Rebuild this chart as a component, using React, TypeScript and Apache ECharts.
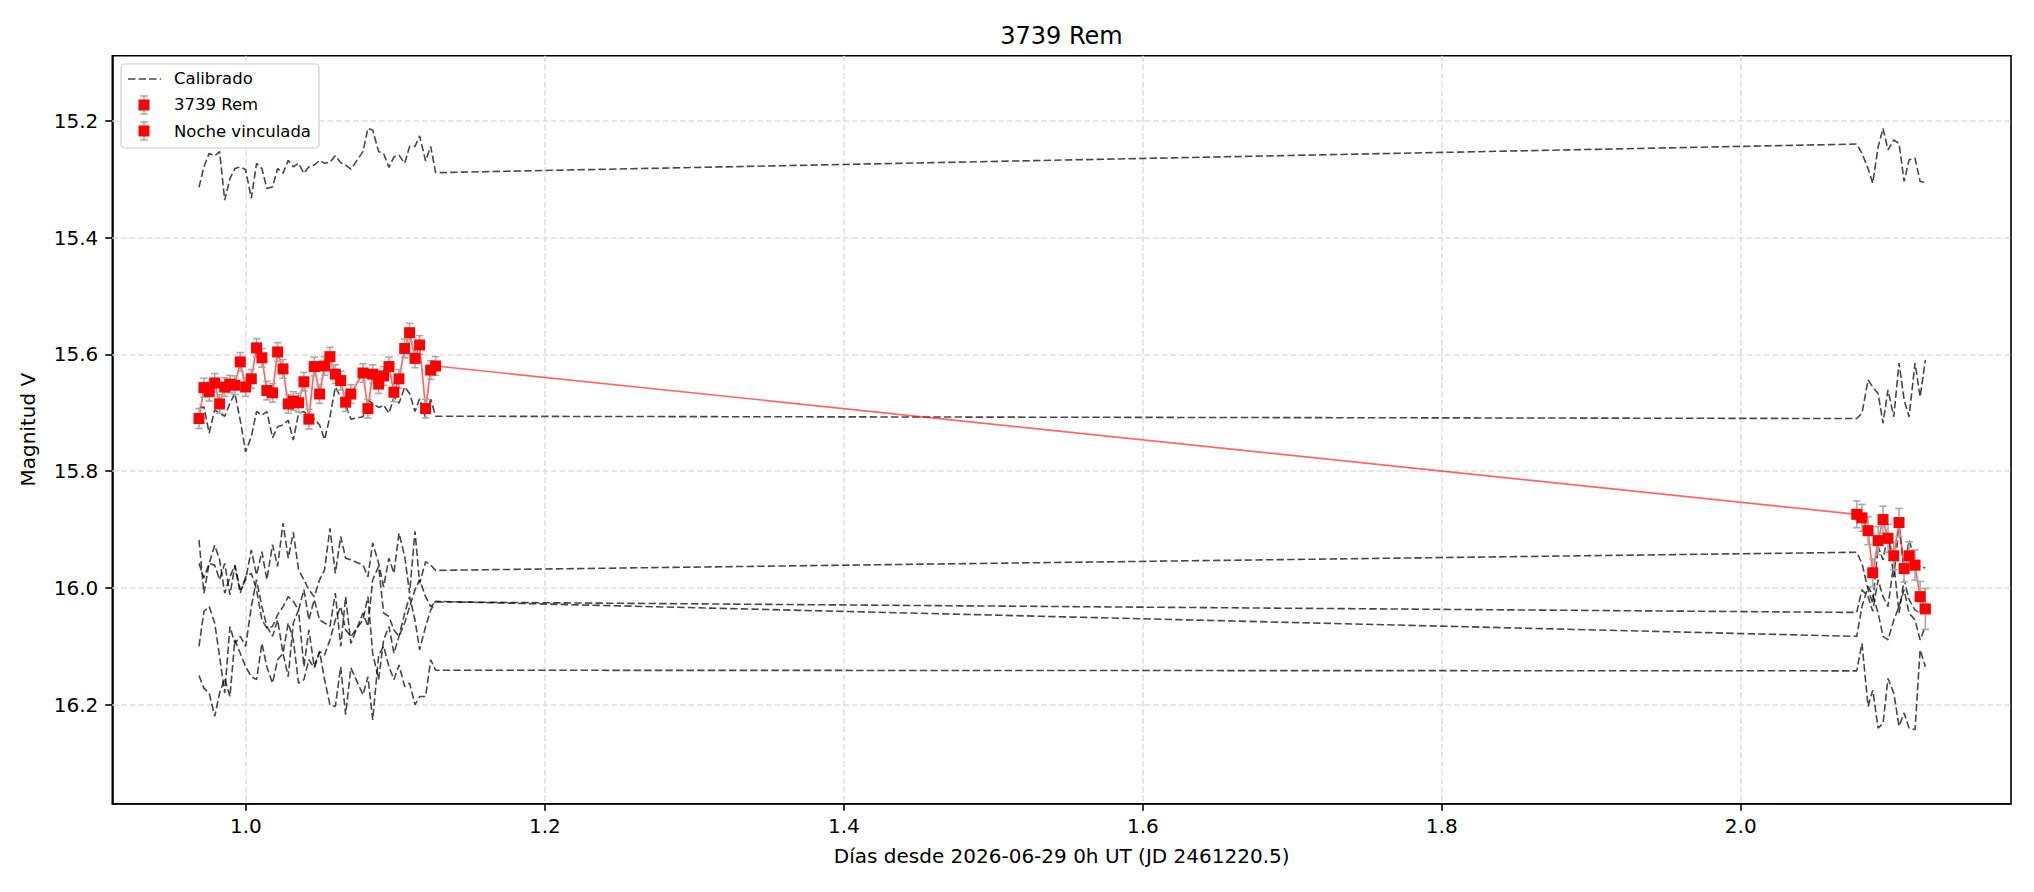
import React, { useEffect, useRef } from 'react';
import * as echarts from 'echarts';

const TITLE = '3739 Rem';
const X_LABEL = 'Días desde 2026-06-29 0h UT (JD 2461220.5)';
const Y_LABEL = 'Magnitud V';
const LEGEND_NAMES = ['Calibrado', '3739 Rem', 'Noche vinculada'];
const X_TICKS = [1.0, 1.2, 1.4, 1.6, 1.8, 2.0];
const Y_TICKS = [15.2, 15.4, 15.6, 15.8, 16.0, 16.2];
const X_MIN = 0.9106;
const X_MAX = 2.1808;
const Y_MIN = 15.0887;
const Y_MAX = 16.3695;

// Night 1 (3739 Rem)
const T1 = [0.9686, 0.9719, 0.9754, 0.9791, 0.9824, 0.9858, 0.9893, 0.9926, 0.9962, 0.9998, 1.0036, 1.0071, 1.0107, 1.014, 1.0178, 1.0212, 1.0248, 1.0283, 1.0317, 1.0352, 1.0388, 1.0421, 1.0457, 1.0493, 1.0526, 1.0562, 1.0598, 1.0634, 1.0667, 1.0702, 1.0783, 1.0816, 1.0848, 1.0888, 1.0921, 1.0957, 1.099, 1.1024, 1.1062, 1.1095, 1.1131, 1.1162, 1.1202, 1.1236, 1.1269];
const M1 = [15.71, 15.657, 15.664, 15.649, 15.685, 15.656, 15.651, 15.653, 15.613, 15.656, 15.642, 15.589, 15.606, 15.662, 15.666, 15.596, 15.625, 15.685, 15.68, 15.683, 15.647, 15.711, 15.621, 15.668, 15.62, 15.604, 15.634, 15.645, 15.682, 15.668, 15.632, 15.693, 15.634, 15.651, 15.637, 15.621, 15.665, 15.642, 15.59, 15.563, 15.607, 15.584, 15.693, 15.627, 15.62];
const E1 = [0.017, 0.016, 0.016, 0.016, 0.016, 0.016, 0.015, 0.016, 0.016, 0.016, 0.016, 0.016, 0.016, 0.016, 0.016, 0.016, 0.016, 0.016, 0.016, 0.016, 0.016, 0.017, 0.016, 0.016, 0.016, 0.016, 0.016, 0.016, 0.016, 0.016, 0.016, 0.016, 0.016, 0.016, 0.016, 0.016, 0.016, 0.016, 0.016, 0.016, 0.016, 0.016, 0.016, 0.016, 0.016];

// Night 2 (Noche vinculada)
const T2 = [2.0776, 2.0811, 2.0852, 2.0883, 2.0919, 2.0952, 2.0985, 2.1024, 2.1059, 2.1093, 2.1126, 2.1166, 2.12, 2.1235];
const M2 = [15.874, 15.88, 15.902, 15.974, 15.919, 15.883, 15.915, 15.945, 15.888, 15.967, 15.945, 15.961, 16.015, 16.036];
const E2 = [0.023, 0.023, 0.024, 0.024, 0.024, 0.023, 0.024, 0.024, 0.024, 0.023, 0.024, 0.026, 0.026, 0.035];

// Calibrated comparison stars, night 1 and night 2
const CAL1_N1 = [15.314, 15.279, 15.256, 15.26, 15.253, 15.336, 15.299, 15.282, 15.279, 15.284, 15.333, 15.273, 15.282, 15.316, 15.313, 15.282, 15.29, 15.268, 15.279, 15.273, 15.29, 15.279, 15.276, 15.268, 15.273, 15.271, 15.26, 15.272, 15.276, 15.283, 15.253, 15.213, 15.216, 15.253, 15.256, 15.28, 15.262, 15.259, 15.273, 15.244, 15.244, 15.226, 15.269, 15.244, 15.289];
const CAL1_N2 = [15.24, 15.256, 15.282, 15.307, 15.245, 15.213, 15.25, 15.233, 15.239, 15.304, 15.267, 15.264, 15.304, 15.306];
const CAL2_N1 = [15.693, 15.69, 15.735, 15.695, 15.701, 15.706, 15.684, 15.667, 15.713, 15.767, 15.741, 15.698, 15.704, 15.698, 15.743, 15.724, 15.721, 15.713, 15.747, 15.701, 15.698, 15.706, 15.711, 15.721, 15.746, 15.707, 15.656, 15.673, 15.687, 15.711, 15.707, 15.678, 15.684, 15.691, 15.687, 15.701, 15.673, 15.684, 15.656, 15.667, 15.698, 15.676, 15.709, 15.677, 15.706];
const CAL2_N2 = [15.71, 15.701, 15.644, 15.656, 15.667, 15.718, 15.661, 15.707, 15.615, 15.678, 15.707, 15.615, 15.673, 15.61];
const CAL3_N1 = [15.918, 16.009, 15.958, 15.927, 15.952, 16.009, 15.981, 15.961, 16.003, 15.986, 15.935, 15.978, 15.938, 15.986, 15.926, 15.963, 15.889, 15.949, 15.905, 15.969, 15.986, 16.003, 16.015, 15.986, 15.969, 15.898, 15.975, 15.912, 15.949, 15.952, 15.961, 15.981, 15.923, 15.958, 15.998, 15.949, 15.975, 15.906, 15.946, 16.009, 15.903, 15.992, 15.955, 15.961, 15.97];
const CAL3_N2 = [15.939, 15.958, 16.003, 16.026, 15.929, 15.952, 15.906, 15.981, 15.895, 15.969, 15.918, 15.952, 15.963, 15.966];
const CAL4_N1 = [15.958, 15.983, 15.958, 15.961, 15.986, 15.958, 16.012, 15.962, 16.009, 15.981, 15.975, 16.003, 16.055, 16.069, 16.066, 16.046, 16.032, 16.015, 16.023, 16.038, 16.003, 16.055, 16.02, 16.055, 16.06, 16.066, 16.009, 16.1, 16.015, 16.095, 16.043, 16.066, 15.986, 15.963, 16.043, 16.049, 16.072, 16.083, 16.06, 16.032, 16.003, 15.986, 16.015, 16.032, 16.024];
const CAL4_N2 = [16.042, 16.003, 16.015, 16.04, 15.986, 16.015, 16.032, 15.958, 16.043, 15.986, 16.02, 16.038, 16.043, 16.003];
const CAL5_N1 = [16.1, 16.04, 16.032, 16.06, 16.118, 16.18, 16.066, 16.095, 16.083, 16.1, 16.032, 15.986, 16.032, 16.066, 16.083, 16.055, 16.112, 16.152, 16.06, 16.038, 16.135, 16.072, 16.135, 16.109, 16.115, 16.089, 16.055, 16.032, 16.072, 16.083, 16.055, 16.015, 16.112, 16.157, 16.089, 16.066, 16.112, 16.083, 16.043, 16.015, 16.055, 16.106, 16.066, 16.038, 16.023];
const CAL5_N2 = [16.083, 16.032, 15.998, 16.012, 16.043, 16.083, 16.089, 16.055, 16.032, 16.003, 16.043, 16.055, 16.089, 16.066];
const CAL6_N1 = [16.15, 16.172, 16.18, 16.22, 16.18, 16.155, 16.186, 16.089, 16.112, 16.135, 16.152, 16.157, 16.095, 16.135, 16.163, 16.123, 16.112, 16.06, 16.089, 16.163, 16.157, 16.123, 16.137, 16.109, 16.157, 16.2, 16.203, 16.135, 16.217, 16.137, 16.183, 16.152, 16.226, 16.115, 16.1, 16.135, 16.157, 16.132, 16.169, 16.163, 16.2, 16.186, 16.186, 16.123, 16.141];
const CAL6_N2 = [16.142, 16.095, 16.203, 16.175, 16.24, 16.232, 16.155, 16.18, 16.237, 16.214, 16.24, 16.243, 16.106, 16.135];

const CAL_N1 = [CAL1_N1, CAL2_N1, CAL3_N1, CAL4_N1, CAL5_N1, CAL6_N1];
const CAL_N2 = [CAL1_N2, CAL2_N2, CAL3_N2, CAL4_N2, CAL5_N2, CAL6_N2];

const FONT = 'DejaVu Sans';
const ERR_COLOR = '#a9a9a9';
const CAL_COLOR = 'rgba(0,0,0,0.72)';
const CAL_DASH = [7.4, 3.2];

function errorRender(params: any, api: any) {
  const x = api.value(0);
  const lo = api.value(1);
  const hi = api.value(2);
  const p1 = api.coord([x, lo]);
  const p2 = api.coord([x, hi]);
  const cap = 3.7;
  const style = { stroke: ERR_COLOR, lineWidth: 1.6 };
  return {
    type: 'group',
    children: [
      { type: 'line', shape: { x1: p1[0], y1: p1[1], x2: p2[0], y2: p2[1] }, style },
      { type: 'line', shape: { x1: p1[0] - cap, y1: p1[1], x2: p1[0] + cap, y2: p1[1] }, style },
      { type: 'line', shape: { x1: p2[0] - cap, y1: p2[1], x2: p2[0] + cap, y2: p2[1] }, style },
    ],
  };
}

function legendGraphics() {
  const items: any[] = [];
  items.push({
    type: 'rect', z: 100,
    shape: { x: 121, y: 64, width: 198, height: 84, r: 4 },
    style: { fill: 'rgba(255,255,255,0.85)', stroke: '#cccccc', lineWidth: 1.2 },
  });
  items.push({
    type: 'line', z: 101,
    shape: { x1: 128, y1: 79, x2: 161, y2: 79 },
    style: { stroke: CAL_COLOR, lineWidth: 1.6, lineDash: CAL_DASH },
  });
  const rows = [105, 131];
  rows.forEach((cy) => {
    const cx = 144;
    const st = { stroke: ERR_COLOR, lineWidth: 1.6 };
    items.push({ type: 'line', z: 101, shape: { x1: cx, y1: cy - 9, x2: cx, y2: cy + 9 }, style: st });
    items.push({ type: 'line', z: 101, shape: { x1: cx - 3.7, y1: cy - 9, x2: cx + 3.7, y2: cy - 9 }, style: st });
    items.push({ type: 'line', z: 101, shape: { x1: cx - 3.7, y1: cy + 9, x2: cx + 3.7, y2: cy + 9 }, style: st });
    items.push({ type: 'rect', z: 102, shape: { x: cx - 5.5, y: cy - 5.5, width: 11, height: 11 }, style: { fill: '#ff0000' } });
  });
  const ys = [78.5, 104.7, 131];
  LEGEND_NAMES.forEach((name, i) => {
    items.push({
      type: 'text', z: 103, x: 174, y: ys[i],
      style: {
        text: name, fill: '#000', fontSize: 16.5, fontFamily: FONT,
        align: 'left', verticalAlign: 'middle', textAlign: 'left', textVerticalAlign: 'middle',
      },
    });
  });
  items.push({
    type: 'text', z: 103, x: 1061.5, y: 36,
    style: {
      text: TITLE, fill: '#000', fontSize: 24, fontFamily: FONT,
      align: 'center', verticalAlign: 'middle', textAlign: 'center', textVerticalAlign: 'middle',
    },
  });
  return items;
}

export default function App() {
  const ref = useRef<HTMLDivElement>(null);
  useEffect(() => {
    if (!ref.current) return;
    const chart = echarts.init(ref.current, undefined, { renderer: 'svg' });

    const calSeries = CAL_N1.map((n1, k) => ({
      name: LEGEND_NAMES[0],
      type: 'line',
      z: 2,
      showSymbol: false,
      symbol: 'none',
      silent: true,
      data: T1.map((t, i) => [t, n1[i]]).concat(T2.map((t, i) => [t, CAL_N2[k][i]])),
      lineStyle: { color: CAL_COLOR, width: 1.6, type: CAL_DASH },
    }));

    const gridLines = [
      ...X_TICKS.map((v) => ({ xAxis: v })),
      ...Y_TICKS.map((v) => ({ yAxis: v })),
    ];

    const option: any = {
      animation: false,
      backgroundColor: '#ffffff',
      textStyle: { fontFamily: FONT },
      grid: {
        left: 112.3, right: 23, top: 55.7, bottom: 88.3,
        show: true, borderColor: '#000', borderWidth: 1.6, backgroundColor: 'transparent',
        containLabel: false, outerBoundsMode: 'none',
      },
      graphic: legendGraphics(),
      xAxis: {
        type: 'value', min: X_MIN, max: X_MAX,
        name: X_LABEL, nameLocation: 'middle', nameGap: 42,
        nameTextStyle: { fontSize: 20, color: '#000', fontFamily: FONT },
        axisLine: { show: true, onZero: false, lineStyle: { color: '#000', width: 1.6 } },
        axisTick: { show: true, length: 7, lineStyle: { color: '#000', width: 1.6 }, customValues: X_TICKS },
        axisLabel: { customValues: X_TICKS, formatter: (v: number) => v.toFixed(1), fontSize: 20, color: '#000', margin: 12, fontFamily: FONT },
        splitLine: { show: false },
      },
      yAxis: {
        type: 'value', inverse: true, min: Y_MIN, max: Y_MAX,
        name: Y_LABEL, nameLocation: 'middle', nameGap: 74,
        nameTextStyle: { fontSize: 20, color: '#000', fontFamily: FONT },
        axisLine: { show: true, onZero: false, lineStyle: { color: '#000', width: 1.6 } },
        axisTick: { show: true, length: 7, lineStyle: { color: '#000', width: 1.6 }, customValues: Y_TICKS },
        axisLabel: { customValues: Y_TICKS, formatter: (v: number) => v.toFixed(1), fontSize: 20, color: '#000', margin: 14, fontFamily: FONT },
        splitLine: { show: false },
      },
      series: [
        {
          name: 'grid', type: 'line', data: [], silent: true, z: 1,
          markLine: {
            silent: true, z: 1, symbol: ['none', 'none'], label: { show: false },
            lineStyle: { color: '#dedede', width: 1.5, type: [6, 2.6] },
            emphasis: { disabled: true },
            data: gridLines,
          },
        },
        ...calSeries,
        {
          name: 'link', type: 'line', z: 3, showSymbol: false, symbol: 'none', silent: true,
          data: T1.map((t, i) => [t, M1[i]]).concat(T2.map((t, i) => [t, M2[i]])),
          lineStyle: { color: 'rgba(255,0,0,0.6)', width: 1.7 },
        },
        {
          name: LEGEND_NAMES[1] + ' err', type: 'custom', z: 4, silent: true,
          renderItem: errorRender, encode: { x: 0, y: [1, 2] },
          data: T1.map((t, i) => [t, M1[i] - E1[i], M1[i] + E1[i]]),
        },
        {
          name: LEGEND_NAMES[2] + ' err', type: 'custom', z: 4, silent: true,
          renderItem: errorRender, encode: { x: 0, y: [1, 2] },
          data: T2.map((t, i) => [t, M2[i] - E2[i], M2[i] + E2[i]]),
        },
        {
          name: LEGEND_NAMES[1], type: 'scatter', z: 5, symbol: 'rect', symbolSize: 11, silent: true,
          itemStyle: { color: '#ff0000', opacity: 1 },
          data: T1.map((t, i) => [t, M1[i]]),
        },
        {
          name: LEGEND_NAMES[2], type: 'scatter', z: 5, symbol: 'rect', symbolSize: 11, silent: true,
          itemStyle: { color: '#ff0000', opacity: 1 },
          data: T2.map((t, i) => [t, M2[i]]),
        },
      ],
    };
    chart.setOption(option);
    return () => chart.dispose();
  }, []);
  return (
    <div
      ref={ref}
      style={{ position: 'fixed', left: 0, top: 0, width: 2034, height: 892, background: '#fff' }}
    />
  );
}
